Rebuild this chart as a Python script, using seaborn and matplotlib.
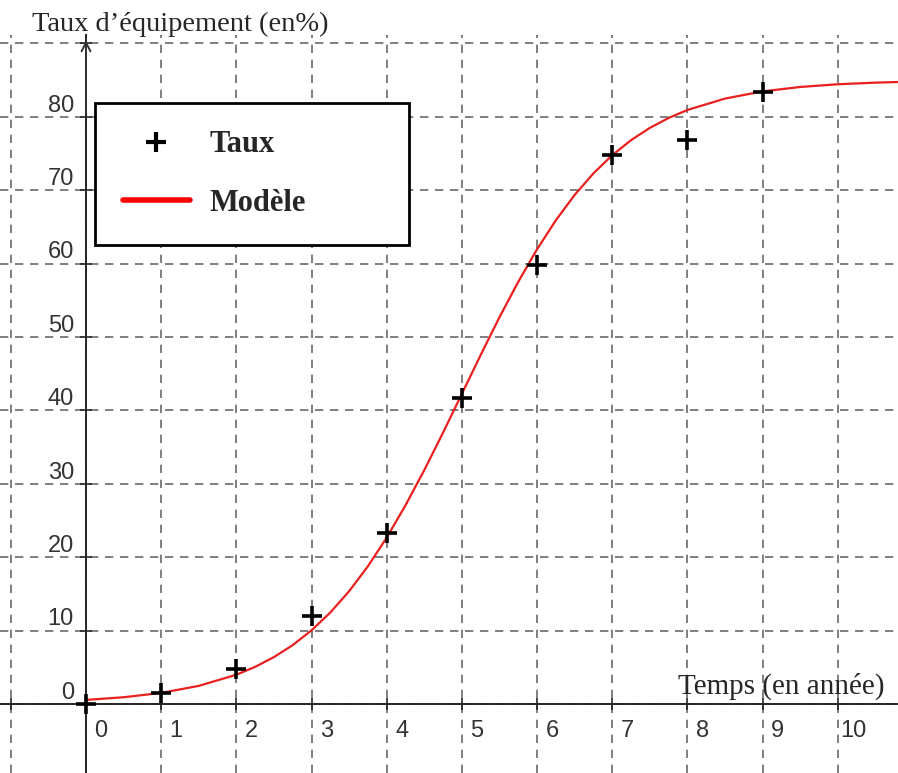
import numpy as np
import pandas as pd
import matplotlib.pyplot as plt
import seaborn as sns
from matplotlib.lines import Line2D

# observed rates
annees = [0, 1, 2, 3, 4, 5, 6, 7, 8, 9]
taux = [0, 1.5, 4.8, 12.0, 23.3, 41.7, 59.8, 74.8, 76.8, 83.4]

# model curve
t_modele = [0, 0.5, 1, 1.5, 2, 2.25, 2.5, 2.75, 3, 3.25, 3.5, 3.75, 4, 4.25, 4.5, 4.75,
            5, 5.25, 5.5, 5.75, 6, 6.25, 6.5, 6.75, 7, 7.25, 7.5, 7.75, 8, 8.5, 9, 9.5,
            10, 10.5, 11]
y_modele = [0.56, 0.92, 1.51, 2.47, 3.99, 5.06, 6.39, 8.03, 10.04, 12.47, 15.37, 18.77,
            22.68, 27.08, 31.88, 36.99, 42.27, 47.56, 52.70, 57.53, 61.96, 65.91, 69.36,
            72.30, 74.77, 76.82, 78.49, 79.84, 80.93, 82.48, 83.46, 84.06, 84.43, 84.65, 84.79]

xticks = list(range(-1, 11))
yticks = list(range(0, 100, 10))

df = pd.DataFrame({'t': annees, 'taux': taux})
dm = pd.DataFrame({'t': t_modele, 'y': y_modele})

sns.set_style('white')
plt.rcParams['font.family'] = ['Liberation Serif', 'DejaVu Serif']

fig = plt.figure(figsize=(8.98, 7.73), dpi=100)
ax = fig.add_axes([0, 0, 1, (773 - 35) / 773])

sns.lineplot(data=dm, x='t', y='y', color='#e82020', lw=1.6, ax=ax, sort=False)
sns.scatterplot(data=df, x='t', y='taux', marker='+', color='black', s=190,
                linewidth=2.6, ax=ax, zorder=5)

ax.set_xlim(-1.144, 10.8)
ax.set_ylim(-9.4, 91.14)
ax.set_xticks(xticks)
ax.set_yticks(yticks)
ax.grid(True, linestyle=(0, (5, 4)), color='#6a6a6a', lw=1.2)

for s in ['top', 'right']:
    ax.spines[s].set_visible(False)
ax.spines['left'].set_position(('data', 0))
ax.spines['bottom'].set_position(('data', 0))
ax.spines['left'].set_linewidth(1.4)
ax.spines['bottom'].set_linewidth(1.4)
ax.tick_params(direction='inout', length=8, width=1.2, labelleft=False,
               labelbottom=False, left=True, bottom=True)
ax.set_xlabel('')
ax.set_ylabel('')

# arrow on top of y axis
ax.annotate('', xy=(0, 90.8), xytext=(0, 80), annotation_clip=False,
            arrowprops=dict(arrowstyle='->', color='#333333', lw=1.4, mutation_scale=16))

for t in xticks:
    if t >= 0:
        ax.text(t + 0.2, -4.5, str(t), ha='center', va='baseline', fontsize=17,
                family='Liberation Sans', color='#333333')
for v in yticks:
    if v <= 80:
        ax.text(-0.16, v + 0.7, str(v), ha='right', va='baseline', fontsize=17,
                family='Liberation Sans', color='#333333')

fig.text(32 / 898, 1 - 31 / 773, 'Taux d\u2019équipement (en%)', fontsize=20.5,
         ha='left', va='baseline')
ax.text(10.625, 1.36, 'Temps (en année)', fontsize=21, ha='right', va='baseline')

handles = [Line2D([], [], marker='+', color='black', ls='none', ms=14, mew=3),
           Line2D([], [], color='red', lw=4)]
leg = ax.legend(handles, ['Taux', 'Modèle'], loc='upper left', mode='expand',
                bbox_to_anchor=(95 / 898, 1 - 246 / 773, 314 / 898, 143 / 773),
                bbox_transform=fig.transFigure, fancybox=False, framealpha=1,
                edgecolor='black', borderpad=0.9, labelspacing=0.95,
                borderaxespad=0, handlelength=2.2, handletextpad=0.65,
                prop={'family': 'Liberation Serif', 'weight': 'bold', 'size': 22})
leg.get_frame().set_linewidth(2)

plt.savefig('out.png', dpi=100)
